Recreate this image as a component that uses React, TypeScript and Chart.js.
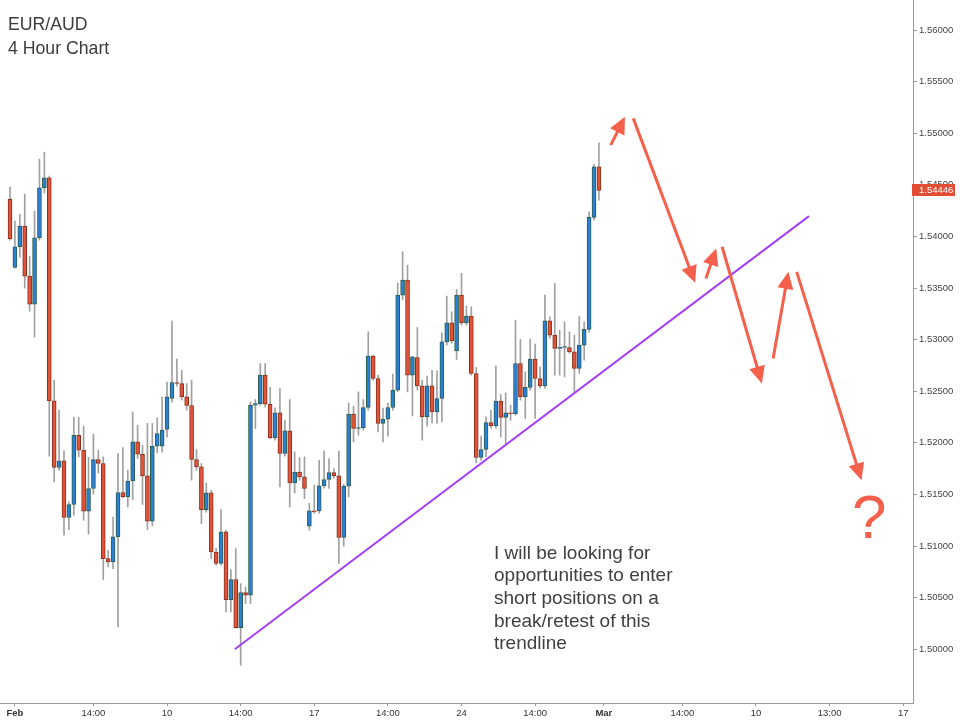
import React, { useEffect, useRef } from "react";
import { Chart, registerables } from "chart.js";
Chart.register(...registerables);

// ---- data (4h candles, index 0..120) ----
const opens = [
  1.54359, 1.537, 1.539, 1.541, 1.53616, 1.53344, 1.53987, 1.54471, 1.54568, 1.52407,
  1.51761, 1.51825, 1.51277, 1.51403, 1.52074, 1.51929, 1.51338, 1.51558, 1.51839, 1.518,
  1.50879, 1.50846, 1.51089, 1.51519, 1.51476, 1.51631, 1.52009, 1.5189, 1.5168, 1.51241,
  1.51968, 1.51968, 1.5213, 1.5243, 1.52585, 1.52575, 1.52446, 1.52362, 1.51839, 1.51767,
  1.51354, 1.51515, 1.50943, 1.50831, 1.51137, 1.50482, 1.50676, 1.5021, 1.5055, 1.50524,
  1.52365, 1.52381, 1.52656, 1.52374, 1.52048, 1.5229, 1.51897, 1.52116, 1.51612, 1.51716,
  1.5167, 1.51192, 1.51341, 1.51341, 1.51583, 1.51645, 1.51713, 1.5168, 1.51083, 1.51581,
  1.52278, 1.52139, 1.52145, 1.52343, 1.5284, 1.52624, 1.52188, 1.52229, 1.52343, 1.52511,
  1.53431, 1.53577, 1.52656, 1.52827, 1.52552, 1.52252, 1.52552, 1.523, 1.5243, 1.52979,
  1.53163, 1.52891, 1.53431, 1.53163, 1.53228, 1.52672, 1.51858, 1.51936, 1.52197, 1.52164,
  1.52404, 1.52246, 1.5229, 1.52281, 1.52769, 1.52446, 1.52537, 1.52811, 1.52624, 1.52552,
  1.53182, 1.53044, 1.52915, 1.52924, 1.52924, 1.52882, 1.52721, 1.52947, 1.53099, 1.54185,
  1.54675,
];
const highs = [
  1.54478, 1.54149, 1.54216, 1.5441, 1.53809, 1.54246, 1.5475, 1.54817, 1.54585, 1.52607,
  1.52317, 1.51922, 1.51428, 1.52249, 1.52249, 1.52162, 1.51861, 1.52084, 1.51929, 1.51864,
  1.5096, 1.51282, 1.51897, 1.51955, 1.51735, 1.523, 1.52171, 1.51977, 1.52188, 1.52188,
  1.52242, 1.52443, 1.52588, 1.53179, 1.52811, 1.52704, 1.52575, 1.52607, 1.51936, 1.518,
  1.51612, 1.51541, 1.50979, 1.51354, 1.51154, 1.50773, 1.50976, 1.50637, 1.50604, 1.52397,
  1.5242, 1.52769, 1.52769, 1.52537, 1.52339, 1.52527, 1.5222, 1.5242, 1.51913, 1.51858,
  1.51864, 1.51415, 1.5159, 1.51832, 1.51922, 1.51848, 1.51752, 1.51922, 1.51599, 1.52387,
  1.52355, 1.52494, 1.5242, 1.53076, 1.5285, 1.52656, 1.52336, 1.52385, 1.52666, 1.53548,
  1.53851, 1.53722, 1.5284, 1.53118, 1.52607, 1.52646, 1.52704, 1.52698, 1.53066, 1.53422,
  1.5327, 1.53487, 1.53642, 1.53325, 1.53318, 1.52731, 1.52065, 1.52252, 1.52317, 1.52743,
  1.52469, 1.52484, 1.52365, 1.53189, 1.53002, 1.52688, 1.53002, 1.52956, 1.52736, 1.53431,
  1.53221, 1.53545, 1.53092, 1.53173, 1.53076, 1.53044, 1.53228, 1.53173, 1.54239, 1.54698,
  1.54908,
];
const lows = [
  1.53964, 1.53693, 1.538, 1.53499, 1.53276, 1.53024, 1.53964, 1.5442, 1.51871, 1.51622,
  1.51735, 1.51105, 1.5116, 1.51299, 1.51864, 1.5125, 1.51115, 1.51502, 1.51706, 1.50676,
  1.50798, 1.50782, 1.50216, 1.5147, 1.51379, 1.51451, 1.51848, 1.51403, 1.5116, 1.51195,
  1.51903, 1.5191, 1.52055, 1.52394, 1.52549, 1.52414, 1.52317, 1.51638, 1.51735, 1.51218,
  1.51328, 1.50879, 1.50815, 1.50815, 1.50362, 1.50362, 1.50205, 1.49845, 1.50443, 1.50443,
  1.52139, 1.52365, 1.52346, 1.5204, 1.52026, 1.51573, 1.51871, 1.51379, 1.51515, 1.51638,
  1.51461, 1.51154, 1.51318, 1.51318, 1.51561, 1.51558, 1.51658, 1.50831, 1.50998, 1.51476,
  1.52009, 1.52074, 1.52123, 1.52317, 1.52607, 1.52106, 1.52009, 1.52065, 1.52317, 1.52494,
  1.5339, 1.52494, 1.52261, 1.52511, 1.52026, 1.52162, 1.52194, 1.52188, 1.52203, 1.52947,
  1.52966, 1.52808, 1.53141, 1.53141, 1.52656, 1.51806, 1.51832, 1.51864, 1.52142, 1.52142,
  1.52058, 1.51977, 1.5222, 1.52268, 1.52414, 1.52236, 1.52511, 1.52236, 1.5253, 1.5253,
  1.53015, 1.52656, 1.52656, 1.52639, 1.52869, 1.52494, 1.52672, 1.52801, 1.53073, 1.54158,
  1.54352,
];
const closes = [
  1.53977, 1.539, 1.541, 1.53616, 1.53344, 1.53987, 1.54471, 1.54568, 1.52407, 1.51761,
  1.51825, 1.51277, 1.51403, 1.52074, 1.51929, 1.51338, 1.51558, 1.51839, 1.518, 1.50879,
  1.50846, 1.51089, 1.51519, 1.51476, 1.51631, 1.52009, 1.5189, 1.5168, 1.51241, 1.51968,
  1.52091, 1.52123, 1.52446, 1.52585, 1.52575, 1.52446, 1.52362, 1.51839, 1.51767, 1.51354,
  1.51515, 1.50943, 1.50831, 1.51137, 1.50482, 1.50676, 1.5021, 1.5055, 1.50524, 1.52365,
  1.52381, 1.52656, 1.52374, 1.52048, 1.5229, 1.51897, 1.52116, 1.51612, 1.51716, 1.5167,
  1.51558, 1.51341, 1.51331, 1.51583, 1.51645, 1.51713, 1.5168, 1.51083, 1.51581, 1.52278,
  1.52139, 1.52145, 1.52343, 1.5284, 1.52624, 1.52188, 1.52229, 1.52343, 1.52511, 1.53431,
  1.53577, 1.52656, 1.52833, 1.52552, 1.52252, 1.52552, 1.523, 1.5243, 1.52979, 1.53163,
  1.52988, 1.53431, 1.53163, 1.53228, 1.52672, 1.51858, 1.51936, 1.52197, 1.52164, 1.52404,
  1.52246, 1.5229, 1.52281, 1.52769, 1.52446, 1.52537, 1.52811, 1.52624, 1.52552, 1.53182,
  1.53044, 1.52915, 1.52924, 1.52927, 1.52882, 1.52721, 1.52947, 1.53099, 1.54185, 1.54675,
  1.54446,
];

const xTickPositions = [1, 17, 32, 47, 62, 77, 92, 107, 121, 137, 152, 167, 182];
const xTickLabels = ["Feb", "14:00", "10", "14:00", "17", "14:00", "24", "14:00", "Mar", "14:00", "10", "13:00", "17"];
const yTickValues = [1.5, 1.505, 1.51, 1.515, 1.52, 1.525, 1.53, 1.535, 1.54, 1.545, 1.55, 1.555, 1.56];

const trendX = [45.8, 162.8];
const trendY = [1.5, 1.54197];

const arrowFromX = [122.4, 127.0, 141.8, 145.1, 155.5, 160.3];
const arrowFromY = [1.54885, 1.55144, 1.53593, 1.539, 1.52818, 1.53657];
const arrowToX = [125.3, 139.6, 143.9, 153.2, 158.6, 173.5];
const arrowToY = [1.5516, 1.53551, 1.53884, 1.52576, 1.53657, 1.51638];

const questionX = 175.1;
const questionY = 1.51241;

const lastPrice = 1.54446;
const titleLines = ["EUR/AUD", "4 Hour Chart"];
const noteLines = [
  "I will be looking for",
  "opportunities to enter",
  "short positions on a",
  "break/retest of this",
  "trendline",
];

const FONT = "'Liberation Sans', Arial, Helvetica, sans-serif";
const BULL = "#2a7fd7";
const BULL_BORDER = "#2d5e4c";
const BEAR = "#e2543a";
const BEAR_BORDER = "#86301f";
const WICK = "#a0a0a0";
const ARROW = "#f4604b";
const TREND = "#a53ff6";
const AXIS = "#9a9a9a";

export default function App() {
  const ref = useRef<HTMLCanvasElement>(null);

  useEffect(() => {
    const canvas = ref.current;
    if (!canvas) return;
    const idx = opens.map((_, i) => i);
    const isBull = idx.map((i) => closes[i] >= opens[i]);

    const annot = {
      id: "annot",
      afterDraw(chart: any) {
        const ctx = chart.ctx as CanvasRenderingContext2D;
        const xs = chart.scales.x;
        const ys = chart.scales.y;
        ctx.save();
        // arrows
        ctx.strokeStyle = ARROW;
        ctx.fillStyle = ARROW;
        ctx.lineWidth = 3;
        for (let k = 0; k < arrowFromX.length; k++) {
          const x1 = xs.getPixelForValue(arrowFromX[k]);
          const y1 = ys.getPixelForValue(arrowFromY[k]);
          const x2 = xs.getPixelForValue(arrowToX[k]);
          const y2 = ys.getPixelForValue(arrowToY[k]);
          const a = Math.atan2(y2 - y1, x2 - x1);
          const c = Math.cos(a);
          const s = Math.sin(a);
          const hl = 17;
          const hw = 8;
          const bx = x2 - hl * c;
          const by = y2 - hl * s;
          ctx.beginPath();
          ctx.moveTo(x1, y1);
          ctx.lineTo(bx + 2 * c, by + 2 * s);
          ctx.stroke();
          ctx.beginPath();
          ctx.moveTo(x2, y2);
          ctx.lineTo(bx + hw * s, by - hw * c);
          ctx.lineTo(bx - hw * s, by + hw * c);
          ctx.closePath();
          ctx.fill();
        }
        // question mark
        ctx.font = `62px ${FONT}`;
        ctx.textAlign = "center";
        ctx.textBaseline = "middle";
        ctx.fillText("?", xs.getPixelForValue(questionX), ys.getPixelForValue(questionY));

        // title
        ctx.fillStyle = "#3c3c3c";
        ctx.textAlign = "left";
        ctx.textBaseline = "alphabetic";
        ctx.font = `17.7px ${FONT}`;
        titleLines.forEach((t, i) => ctx.fillText(t, 8, 30 + i * 23.5));

        // note
        ctx.fillStyle = "#404040";
        ctx.font = `19px ${FONT}`;
        noteLines.forEach((t, i) => ctx.fillText(t, 494, 558.5 + i * 22.7));

        // last price tag
        const py = ys.getPixelForValue(lastPrice);
        const left = chart.chartArea.right - 1;
        ctx.fillStyle = "#e24d33";
        ctx.fillRect(left, Math.round(py) - 6, 43, 12);
        ctx.fillStyle = "#ffffff";
        ctx.font = `9.5px ${FONT}`;
        ctx.textBaseline = "middle";
        ctx.fillText(lastPrice.toFixed(5), chart.chartArea.right + 6, Math.round(py) + 0.5);
        ctx.restore();
      },
    };

    const chart = new Chart(canvas, {
      type: "bar",
      data: {
        datasets: [
          {
            type: "line",
            data: trendX.map((x, k) => ({ x, y: trendY[k] })),
            borderColor: TREND,
            borderWidth: 2,
            pointRadius: 0,
            fill: false,
            order: 0,
          } as any,
          {
            type: "bar",
            data: idx.map((i) => ({ x: i, y: [Math.min(opens[i], closes[i]), Math.max(opens[i], closes[i])] })),
            backgroundColor: isBull.map((b) => (b ? BULL : BEAR)),
            borderColor: isBull.map((b) => (b ? BULL_BORDER : BEAR_BORDER)),
            borderWidth: 1,
            borderSkipped: false,
            barThickness: 4,
            minBarLength: 1,
            grouped: false,
            order: 1,
          } as any,
          {
            type: "bar",
            data: idx.map((i) => ({ x: i, y: [lows[i], highs[i]] })),
            backgroundColor: WICK,
            borderWidth: 0,
            barThickness: 1,
            grouped: false,
            order: 2,
          } as any,
        ],
      },
      options: {
        responsive: false,
        animation: false,
        devicePixelRatio: 1,
        layout: { padding: 0 },
        plugins: { legend: { display: false }, tooltip: { enabled: false } },
        scales: {
          x: {
            type: "linear",
            min: -2.04,
            max: 184,
            offset: false,
            grid: { display: true, offset: false, drawOnChartArea: false, drawTicks: true, tickLength: 3, color: AXIS },
            border: { display: true, color: AXIS },
            ticks: {
              autoSkip: false,
              maxRotation: 0,
              padding: 2,
              color: "#333333",
              font: (c: any) => ({
                family: FONT,
                size: 9.5,
                weight: xTickLabels[c.index] === "Feb" || xTickLabels[c.index] === "Mar" ? "bold" : "normal",
              }),
              callback: (_v: any, i: number) => xTickLabels[i],
            },
            afterBuildTicks: (s: any) => {
              s.ticks = xTickPositions.map((v) => ({ value: v }));
            },
            afterFit: (s: any) => {
              s.height = 17;
              s.paddingLeft = 0;
              s.paddingRight = 0;
            },
          },
          y: {
            type: "linear",
            position: "right",
            min: 1.494797,
            max: 1.562908,
            grid: { display: true, drawOnChartArea: false, drawTicks: true, tickLength: 4, color: AXIS },
            border: { display: true, color: AXIS },
            ticks: {
              padding: 2,
              color: "#444444",
              font: { family: FONT, size: 9.5 },
              callback: (v: any) => Number(v).toFixed(5),
            },
            afterBuildTicks: (s: any) => {
              s.ticks = yTickValues.map((v) => ({ value: v }));
            },
            afterFit: (s: any) => {
              s.width = 47;
              s.paddingTop = 0;
              s.paddingBottom = 0;
            },
          },
        },
      } as any,
      plugins: [annot],
    });
    return () => chart.destroy();
  }, []);

  return (
    <div style={{ position: "fixed", left: 0, top: 0, width: 960, height: 720, background: "#ffffff" }}>
      <canvas ref={ref} width={960} height={720} style={{ display: "block", width: 960, height: 720 }} />
    </div>
  );
}
